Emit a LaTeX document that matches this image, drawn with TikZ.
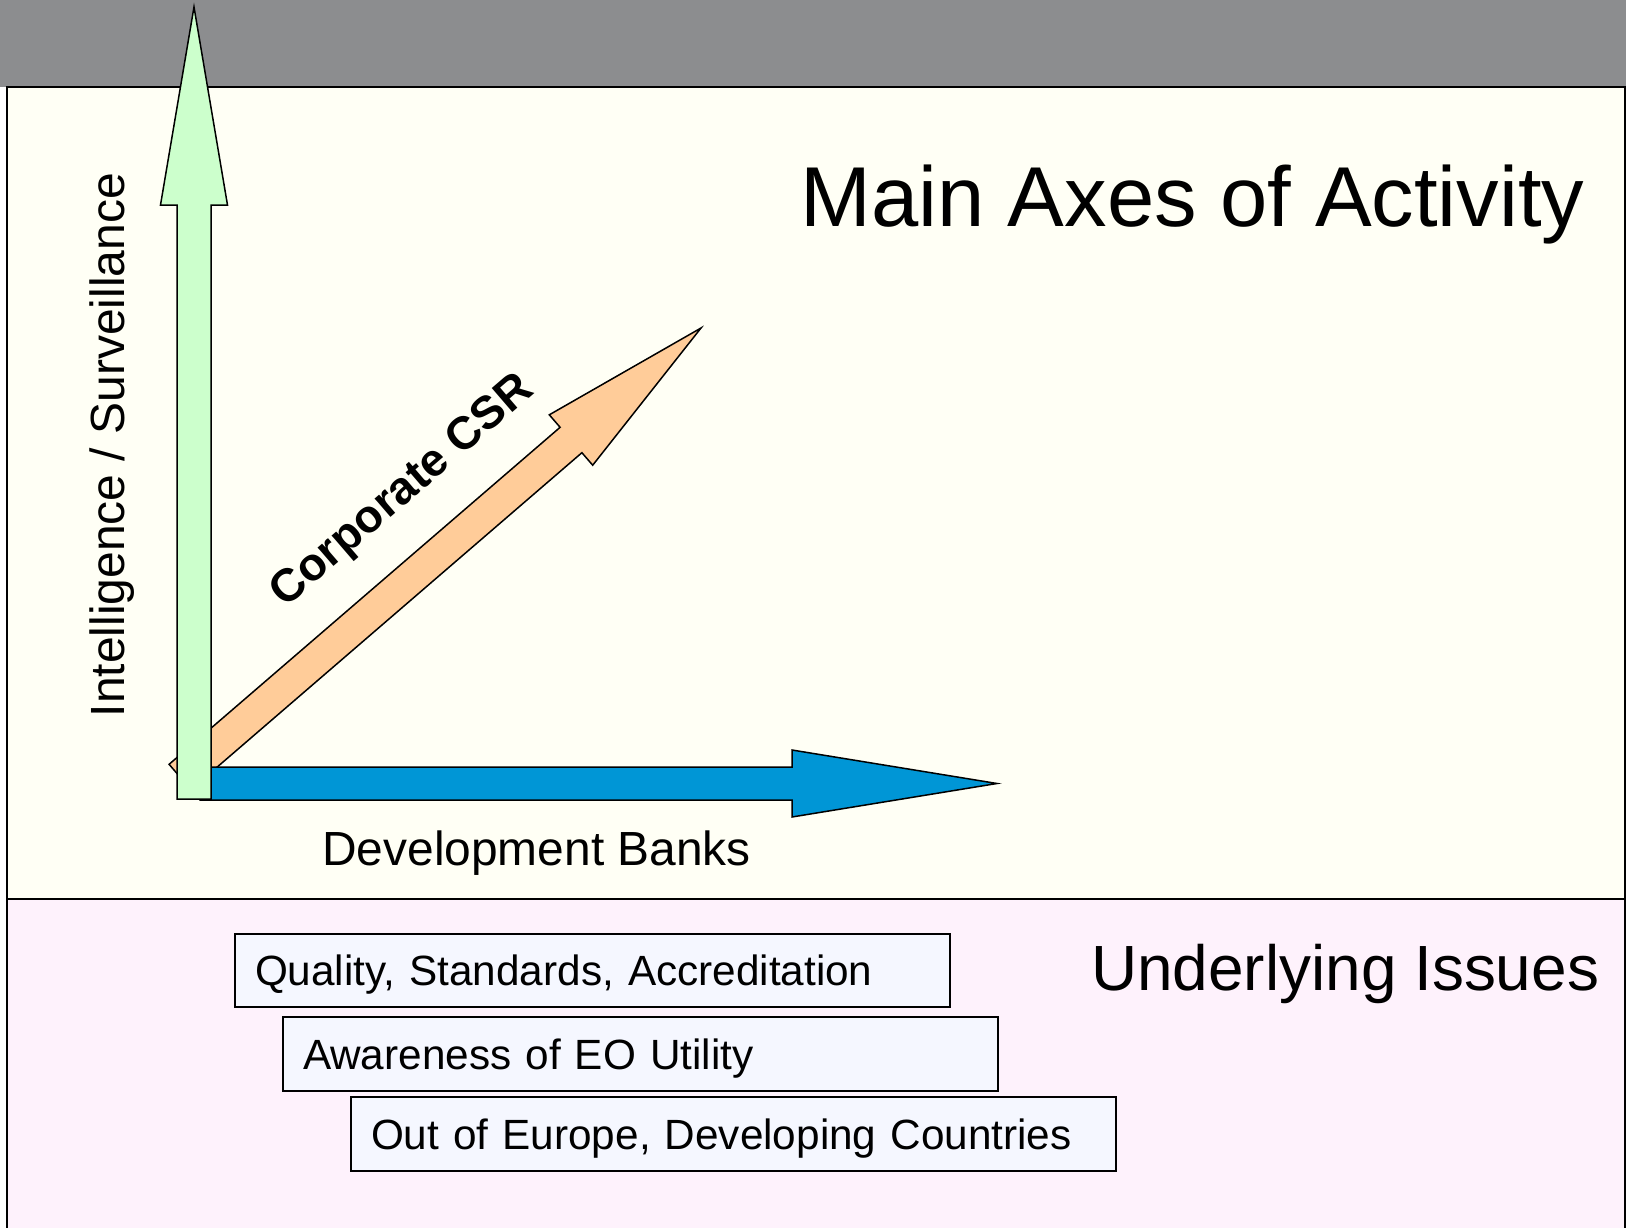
\documentclass[tikz,border=0pt]{standalone}
\usepackage{fontspec}
\setmainfont{Liberation Sans}
\definecolor{bandgray}{HTML}{8C8D8F}
\definecolor{cream}{HTML}{FFFFF5}
\definecolor{pinkbg}{HTML}{FEF2FC}
\definecolor{boxfill}{HTML}{F5F7FF}
\definecolor{greenarr}{HTML}{CCFFCC}
\definecolor{orangearr}{HTML}{FFCC99}
\definecolor{bluearr}{HTML}{0096D6}
\tikzset{
  arrowshape/.style={draw=black, line width=1.5pt, line join=miter},
  panel/.style={draw=black, line width=2pt},
  issuebox/.style={draw=black, line width=2pt, fill=boxfill, anchor=north west,
    inner xsep=20pt, inner ysep=0pt, text height=30.4pt, text depth=0pt,
    font=\fontsize{42.3}{50}\selectfont, align=left},
  label/.style={inner sep=0pt, text=black}
}
\begin{document}
\begin{tikzpicture}[x=1pt,y=-1pt]
\useasboundingbox (0,0) rectangle (1626,1228);
% background bands
\fill[white] (0,0) rectangle (1626,1228);
\fill[bandgray] (0,0) rectangle (1626,87);
\fill[cream] (7,87) rectangle (1626,899);
\fill[pinkbg] (7,899) rectangle (1626,1228);
\draw[panel] (7,1230) -- (7,87) -- (1625,87) -- (1625,899);
\draw[panel] (7,899) -- (1626,899);
\draw[panel] (1625,899) -- (1625,1230);
% orange arrow (Corporate CSR)
\filldraw[arrowshape, fill=orangearr]
  (190.9,789.7) -- (169.1,764.3) -- (560.1,427.3) -- (549.3,414.8)
  -- (701,328) -- (592.7,465.2) -- (581.9,452.7) -- cycle;
% blue arrow (Development Banks)
\filldraw[arrowshape, fill=bluearr]
  (200,767) -- (792,767) -- (792,750) -- (997,783.5) -- (792,817)
  -- (792,800) -- (200,800) -- cycle;
% green arrow (Intelligence / Surveillance)
\filldraw[arrowshape, fill=greenarr]
  (177,799) -- (177,205) -- (160.5,205) -- (194,7) -- (227.5,205)
  -- (211,205) -- (211,799) -- cycle;
% labels
\node[label, anchor=base west, font=\fontsize{85}{100}\selectfont] (title) at (800,226) {Main Axes of Activity};
\node[label, anchor=base west, font=\fontsize{63.9}{75}\selectfont] (under) at (1091,990) {Underlying Issues};
\node[label, anchor=base west, font=\fontsize{47.9}{56}\selectfont] (dev) at (322,865) {Development Banks};
\node[label, anchor=base, rotate=90, font=\fontsize{48}{56}\selectfont] (intel) at (124,445) {Intelligence / Surveillance};
\node[label, rotate=40.7, font=\bfseries\fontsize{46}{54}\selectfont] (csr) at (403,492) {Corporate CSR};
% issue boxes
\node[issuebox, text width=675pt, minimum height=73pt] (q) at (234,933) {Quality, Standards, Accreditation};
\node[issuebox, text width=675pt, minimum height=74pt] (a) at (282,1016) {Awareness of EO Utility};
\node[issuebox, text width=725pt, minimum height=74pt] (o) at (350,1096) {Out of Europe, Developing Countries};
\end{tikzpicture}
\end{document}
